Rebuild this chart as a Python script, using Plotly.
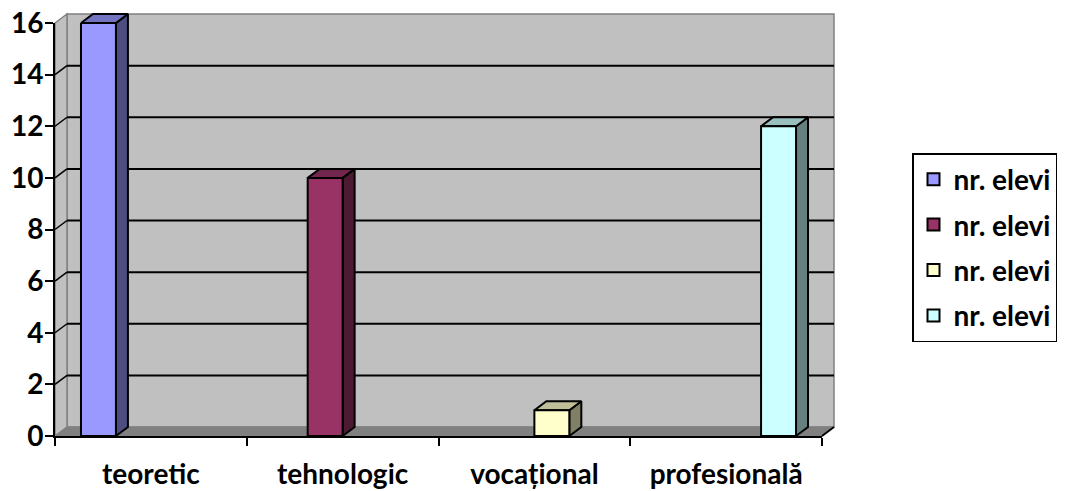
import plotly.graph_objects as go

# ---------------- data ----------------
categories = ["teoretic", "tehnologic", "vocațional", "profesională"]
series_names = ["nr. elevi", "nr. elevi", "nr. elevi", "nr. elevi"]
series_values = [
    [16, None, None, None],
    [None, 10, None, None],
    [None, None, 1, None],
    [None, None, None, 12],
]
y_ticks = [0, 2, 4, 6, 8, 10, 12, 14, 16]

# ---------------- styles ----------------
front_colors = ["#9999FF", "#993366", "#FFFFCC", "#CCFFFF"]
side_colors = ["#4D4D80", "#4D1A33", "#808066", "#668080"]
top_colors = ["#7373BF", "#73264D", "#BFBF99", "#99BFBF"]
WALL = "#C0C0C0"
FLOOR = "#808080"
EDGE = "#808080"
FONT = dict(family="Lato", size=28, color="black", weight="bold")

# pixel layout (figure 1066 x 491)
FIG_W, FIG_H = 1066, 491
PL, PR, PT, PB = 50, 838, 10, 441        # outer (back / 3D) plot box
FX0, FX1, FY0, FY1 = 55, 822, 436, 23    # front plane: x -0.5..3.5, y 0..16
DEPTH_X, DEPTH_Y = 12, 9                 # 3D depth offset in px
W, H = PR - PL, PB - PT
ppx = (FX1 - FX0) / 4.0
ppy = (FY0 - FY1) / 16.0
dx = DEPTH_X / ppx
dy = DEPTH_Y / ppy
YMAX = 16

BARGAP = 0.271
n_series = len(series_values)
bw = (1 - BARGAP) / n_series

fig = go.Figure()

# 3D side and top faces (back subplot, same scale as the front plane)
for s, vals in enumerate(series_values):
    for i, v in enumerate(vals):
        if v is None:
            continue
        x0 = i - (1 - BARGAP) / 2 + s * bw
        x1 = x0 + bw
        fig.add_trace(go.Scatter(
            x=[x1, x1 + dx, x1 + dx, x1, x1], y=[0, dy, v + dy, v, 0],
            fill="toself", fillcolor=side_colors[s], mode="lines",
            line=dict(color="black", width=2), showlegend=False,
            hoverinfo="skip", xaxis="x", yaxis="y"))
        fig.add_trace(go.Scatter(
            x=[x0, x1, x1 + dx, x0 + dx, x0], y=[v, v, v + dy, v + dy, v],
            fill="toself", fillcolor=top_colors[s], mode="lines",
            line=dict(color="black", width=2), showlegend=False,
            hoverinfo="skip", xaxis="x", yaxis="y"))

# front faces: real bars on the front axes
for s, vals in enumerate(series_values):
    fig.add_trace(go.Bar(
        x=categories, y=vals, name=series_names[s],
        marker=dict(color=front_colors[s], line=dict(color="black", width=2)),
        legendgroup=f"g{s}", xaxis="x2", yaxis="y2", hoverinfo="y",
    ))

shapes = []
xl, xr = -0.5, 3.5
# back wall
shapes.append(dict(type="rect", xref="x", yref="y", x0=xl + dx, x1=xr + dx,
                   y0=dy, y1=YMAX + dy, fillcolor=WALL,
                   line=dict(color=EDGE, width=1.5), layer="below"))
# left side wall
shapes.append(dict(type="path", xref="x", yref="y",
                   path=f"M{xl},0 L{xl+dx},{dy} L{xl+dx},{YMAX+dy} L{xl},{YMAX} Z",
                   fillcolor=WALL, line=dict(color=EDGE, width=1.5), layer="below"))
# floor
shapes.append(dict(type="path", xref="x", yref="y",
                   path=f"M{xl},0 L{xr},0 L{xr+dx},{dy} L{xl+dx},{dy} Z",
                   fillcolor=FLOOR, line=dict(color=EDGE, width=1), layer="below"))
# gridlines on back wall + side wall
for t in y_ticks[1:-1]:
    shapes.append(dict(type="line", xref="x", yref="y", x0=xl + dx, x1=xr + dx,
                       y0=t + dy, y1=t + dy, line=dict(color="black", width=2),
                       layer="below"))
    shapes.append(dict(type="line", xref="x", yref="y", x0=xl, x1=xl + dx,
                       y0=t, y1=t + dy, line=dict(color="black", width=1.5),
                       layer="below"))
# floor right edge
shapes.append(dict(type="line", xref="x", yref="y", x0=xr, x1=xr + dx,
                   y0=0, y1=dy, line=dict(color="black", width=2), layer="below"))

fig.update_layout(
    width=FIG_W, height=FIG_H,
    margin=dict(l=PL, r=FIG_W - PR, t=PT, b=FIG_H - PB, autoexpand=False),
    paper_bgcolor="white", plot_bgcolor="rgba(0,0,0,0)",
    barmode="group", bargap=BARGAP, bargroupgap=0,
    font=FONT,
    shapes=shapes,
    xaxis=dict(domain=[0, 1], anchor="y",
               range=[xl - (FX0 - PL) / ppx, xr + (PR - FX1) / ppx],
               visible=False, fixedrange=True),
    yaxis=dict(domain=[0, 1], anchor="x",
               range=[-(PB - FY0) / ppy, YMAX + (FY1 - PT) / ppy],
               visible=False, fixedrange=True),
    xaxis2=dict(type="category", categoryarray=categories, range=[-0.5, 3.5],
                domain=[(FX0 - PL) / W, (FX1 - PL) / W],
                showline=True, linecolor="black", linewidth=2,
                ticks="outside", tickson="boundaries", ticklen=8, tickwidth=2,
                tickcolor="black", showgrid=False, zeroline=False,
                tickfont=FONT, anchor="y2", automargin=False,
                ticklabelstandoff=12, fixedrange=True),
    yaxis2=dict(range=[0, YMAX], tickvals=y_ticks,
                domain=[(PB - FY0) / H, (PB - FY1) / H],
                showline=True, linecolor="black", linewidth=2,
                ticks="outside", ticklen=8, tickwidth=2, tickcolor="black",
                showgrid=False, zeroline=False, tickfont=FONT, anchor="x2",
                automargin=False, ticklabelstandoff=-4, fixedrange=True),
    legend=dict(x=(912 - PL) / W, y=(PB - 153) / H, xanchor="left", yanchor="top",
                bgcolor="white", bordercolor="black", borderwidth=1.5,
                font=FONT, traceorder="grouped", tracegroupgap=6),
    showlegend=True,
)

fig.write_html("out.html", config={"displayModeBar": False},
               post_script="document.body.style.margin='0';")
